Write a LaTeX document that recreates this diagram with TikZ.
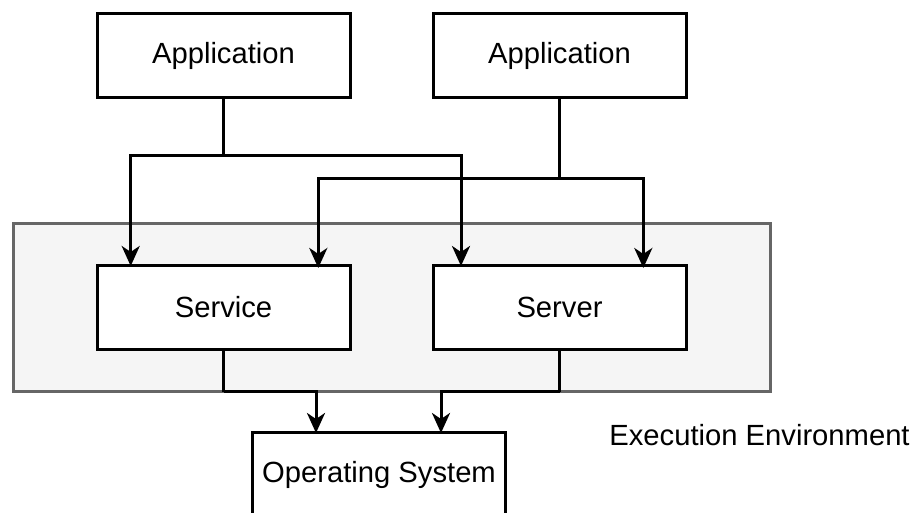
\documentclass[tikz,border=0pt]{standalone}
\usepackage{fontspec}
\setmainfont{Liberation Sans}
\usetikzlibrary{arrows.meta}

\tikzset{
	box/.style={draw, line width=1.5pt, fill=white, minimum width=126.5pt, minimum height=42pt, inner sep=0pt, font=\fontsize{14.6}{17}\selectfont},
	envbox/.style={draw=envline, line width=1.5pt, fill=envfill, minimum width=378.4pt, minimum height=84.2pt, inner sep=0pt},
	wire/.style={line width=1.5pt},
	link/.style={line width=1.5pt, -{Stealth[length=10pt, width=9pt, inset=3pt]}}
}
\definecolor{envfill}{HTML}{F5F5F5}
\definecolor{envline}{HTML}{666666}

\begin{document}
\begin{tikzpicture}[x=0.5pt, y=-0.5pt]
		\useasboundingbox (0,0) rectangle (915,513);
		\node[envbox] (env) at (391.7,307.5) {};
		\node[anchor=west, inner sep=0pt, font=\fontsize{14.6}{17}\selectfont] (envlabel) at (609,435) {Execution Environment};
		
		\coordinate (fork1) at (223.5,156);
		\coordinate (fork2) at (559.5,179);
		\coordinate (svcin1) at (130.7,266);
		\coordinate (svcin2) at (318.3,268);
		\coordinate (srvin1) at (461,266);
		\coordinate (srvin2) at (643.3,268);
		\coordinate (join1) at (223.5,391.7);
		\coordinate (join2) at (559.5,391.7);
		\coordinate (osin1) at (316,433);
		\coordinate (osin2) at (441,433);
		
		\node[box] (app1) at (223.5,55.5) {Application};
		\node[box] (app2) at (559.5,55.5) {Application};
		\node[box] (service) at (223.5,307.5) {Service};
		\node[box] (server) at (559.5,307.5) {Server};
		\node[box] (os) at (379,474.5) {Operating System};
		
		\draw[wire] (app1.south) -- (fork1);
		\draw[wire] (app2.south) -- (fork2);
		\draw[link] (fork1) -| (svcin1);
		\draw[link] (fork1) -| (srvin1);
		\draw[link] (fork2) -| (svcin2);
		\draw[link] (fork2) -| (srvin2);
		\draw[wire] (service.south) -- (join1);
		\draw[wire] (server.south) -- (join2);
		\draw[link] (join1) -| (osin1);
		\draw[link] (join2) -| (osin2);
	\end{tikzpicture}
\end{document}
